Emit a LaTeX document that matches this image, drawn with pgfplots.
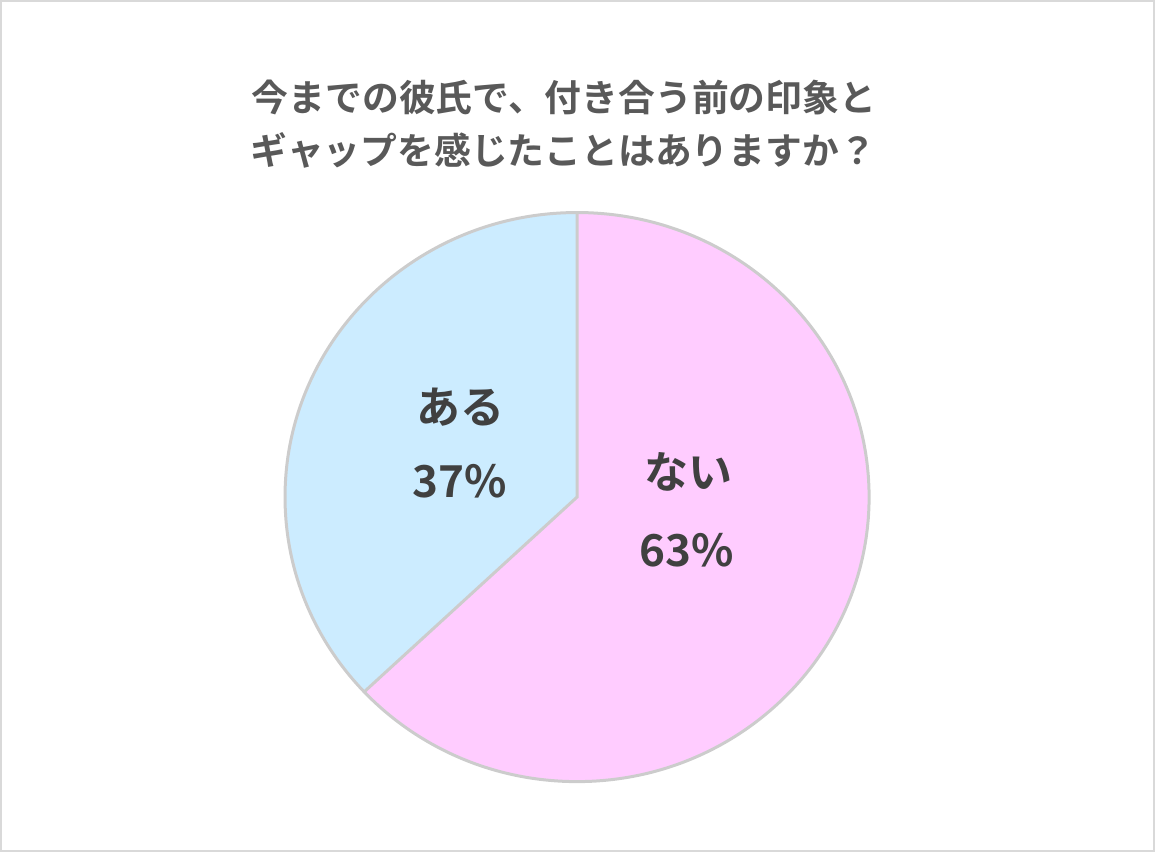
\documentclass[border=0pt]{standalone}
\usepackage{pgfplots}
\pgfplotsset{compat=1.18}
\usepackage{fontspec}
\setmainfont{Noto Sans CJK JP}
\newfontfamily\jpbold{Noto Sans CJK JP Bold}

\definecolor{naifill}{HTML}{FFCCFF}
\definecolor{arufill}{HTML}{CCECFF}
\definecolor{pieedge}{HTML}{CCCCCC}
\definecolor{framegray}{HTML}{D9D9D9}
\definecolor{titlegray}{HTML}{595959}
\definecolor{labelgray}{HTML}{404040}

% shares in percent
\def\valAru{37}
\def\valNai{63}

\begin{document}
\begin{tikzpicture}
\pgfmathsetmacro\split{90-3.6*\valNai}
\begin{axis}[
    hide axis,
    clip=false,
    x=146pt, y=142.25pt,
    xmin=-1.976, xmax=1.979,
    ymin=-1.248, ymax=1.747,
]
    \path (rel axis cs:0,0) (rel axis cs:1,1);
    \draw[framegray, line width=1pt]
        ([shift={(0.5pt,0.5pt)}]rel axis cs:0,0) rectangle ([shift={(-0.5pt,-0.5pt)}]rel axis cs:1,1);

    % slices
    \fill[naifill] (axis cs:0,0) -- (axis cs:0,1) arc[start angle=90, end angle=\split, radius=1] -- cycle;
    \fill[arufill] (axis cs:0,0) -- (axis cs:{cos(\split)},{sin(\split)}) arc[start angle=\split, end angle=-270, radius=1] -- cycle;
    \draw[pieedge, line width=1.5pt] (axis cs:0,0) circle[radius=1];
    \draw[pieedge, line width=1.5pt] (axis cs:0,1) -- (axis cs:0,0) -- (axis cs:{cos(\split)},{sin(\split)});

    % title
    \node[titlegray, font=\jpbold\fontsize{18.4pt}{22pt}\selectfont] at (axis cs:-0.0445,1.406) {今までの彼氏で、付き合う前の印象と};
    \node[titlegray, font=\jpbold\fontsize{18.4pt}{22pt}\selectfont] at (axis cs:-0.048,1.2197) {ギャップを感じたことはありますか？};

    % labels
    \node[labelgray, font=\jpbold\fontsize{22pt}{26pt}\selectfont] at (axis cs:-0.4007,0.3163) {ある};
    \node[labelgray, font=\jpbold\fontsize{22pt}{26pt}\selectfont] at (axis cs:-0.4007,0.0562) {\valAru\%};
    \node[labelgray, font=\jpbold\fontsize{22pt}{26pt}\selectfont] at (axis cs:0.380,0.0879) {ない};
    \node[labelgray, font=\jpbold\fontsize{22pt}{26pt}\selectfont] at (axis cs:0.3767,-0.1863) {\valNai\%};
\end{axis}
\end{tikzpicture}
\end{document}
